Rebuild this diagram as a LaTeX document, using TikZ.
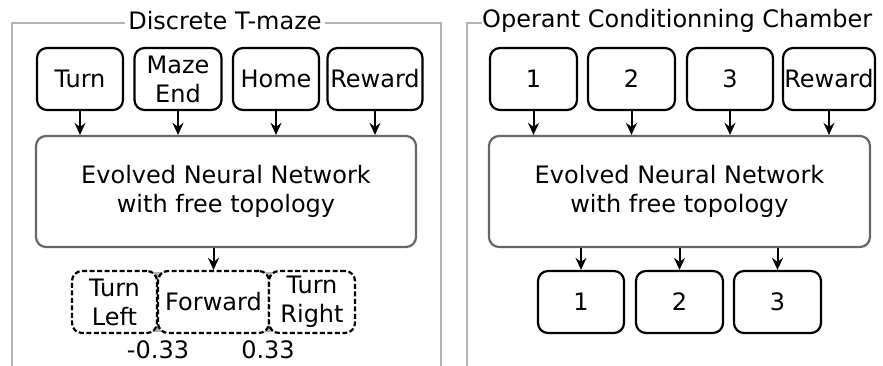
\documentclass[tikz,border=0pt]{standalone}
\usepackage{fontspec}
\setmainfont{DejaVu Sans}
\usetikzlibrary{arrows.meta}

\begin{document}
\begin{tikzpicture}
	[
	x=1pt, y=-1pt,
	align=center,
	font=\fontsize{24}{29}\selectfont,
	box/.style={draw, line width=2.2pt, rounded corners=10pt, inner sep=0pt, minimum height=62pt},
	net/.style={draw=black!60, line width=2.2pt, rounded corners=10pt, minimum width=380pt, minimum height=111pt},
	outbox/.style={box, dash pattern=on 5pt off 2.5pt},
	frame/.style={draw=black!30, line width=2.2pt},
	arr/.style={-{Stealth[length=12pt,width=11pt,inset=4pt]}, line width=2pt},
	]
		\useasboundingbox (0,0) rectangle (883,366);
		
		% frames
		\draw[frame] (125,23) -- (12,23) -- (12,370);
		\draw[frame] (325,23) -- (441,23) -- (441,370);
		\node[inner sep=0pt] (ttitle) at (225,21) {Discrete T-maze};
		\draw[frame] (482,23) -- (467,23) -- (467,370);
		\node[inner sep=0pt, anchor=west] (otitle) at (482,21) {Operant Conditionning Chamber};
		
		% T-maze inputs
		\node[box, minimum width=86pt] (tturn) at 	(80, 79) {Turn};
		\node[box, minimum width=87pt] (tend) at 	(178, 79) {Maze\\End};
		\node[box, minimum width=86pt] (thome) at 	(276, 79) {Home};
		\node[box, minimum width=95pt] (trew) at 	(375, 79) {Reward};
		
		% T-maze network
		\node[net] (tnet) at 		(226, 191.5) {Evolved Neural Network\\with free topology};
		
		% T-maze outputs
		\fill[black!30] (80,272) rectangle (348,332);
		\node[outbox, minimum width=85pt, fill=white] (tleft) at 	(114.5, 302) {Turn\\Left};
		\node[outbox, minimum width=111pt, fill=white] (tfwd) at 	(213.5, 302) {Forward};
		\node[outbox, minimum width=86pt, fill=white] (tright) at 	(312, 302) {Turn\\Right};
		\node (tlow) at 	(158, 350) {-0.33};
		\node (thigh) at 	(268, 350) {0.33};
		
		% chamber inputs
		\node[box, minimum width=87pt] (oone) at 	(533.5, 79) {1};
		\node[box, minimum width=87pt] (otwo) at 	(631.5, 79) {2};
		\node[box, minimum width=86pt] (othree) at 	(730, 79) {3};
		\node[box, minimum width=92pt] (orew) at 	(829, 79) {Reward};
		
		% chamber network
		\node[net, minimum width=381pt] (onet) at 		(679.5, 191.5) {Evolved Neural Network\\with free topology};
		
		% chamber outputs
		\node[box, minimum width=86pt] (oout1) at 	(581, 302) {1};
		\node[box, minimum width=87pt] (oout2) at 	(679.5, 302) {2};
		\node[box, minimum width=87pt] (oout3) at 	(777.5, 302) {3};
		
		\foreach \from in {tturn,tend,thome,trew} \draw[arr] (\from.south) -- (\from.south |- tnet.north);
		\draw[arr] (tnet.south -| tfwd.north) -- (tfwd.north);
		\foreach \from in {oone,otwo,othree,orew} \draw[arr] (\from.south) -- (\from.south |- onet.north);
		\foreach \to in {oout1,oout2,oout3} \draw[arr] (onet.south -| \to.north) -- (\to.north);
		
	\end{tikzpicture}
\end{document}
